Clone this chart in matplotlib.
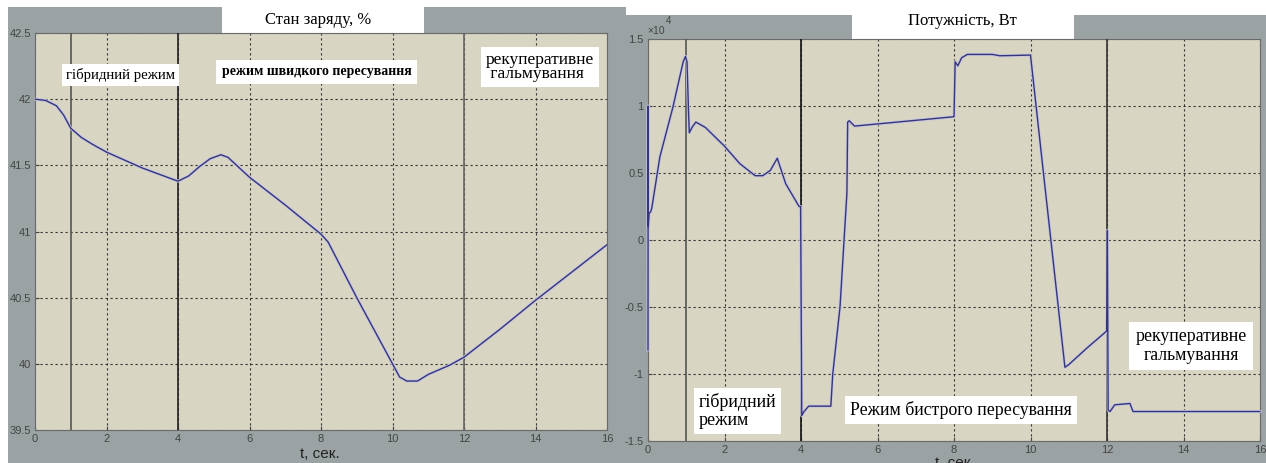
import matplotlib
matplotlib.use("Agg")
import matplotlib.pyplot as plt
from matplotlib.patches import Rectangle

# --- data ---
soc_t = [0, 0.3, 0.6, 0.8, 1.0, 1.3, 1.6, 2.0, 2.5, 3.0, 3.5, 4.0, 4.3, 4.6, 4.9, 5.2, 5.4,
         6.0, 7.0, 8.0, 8.2, 9.0, 9.5, 10.0, 10.2, 10.4, 10.7, 11.0, 11.6, 12.0, 13.0, 14.0, 15.0, 16.0]
soc = [42.0, 41.99, 41.95, 41.88, 41.78, 41.71, 41.66, 41.60, 41.54, 41.48, 41.43, 41.38, 41.42,
       41.49, 41.55, 41.58, 41.56, 41.41, 41.20, 40.98, 40.92, 40.50, 40.25, 40.00, 39.90, 39.87,
       39.87, 39.92, 39.99, 40.05, 40.26, 40.48, 40.69, 40.90]

pow_t = [0.0, 0.004, 0.008, 0.03, 0.07, 0.1, 0.31, 0.65, 0.92, 0.98, 1.02, 1.06, 1.08, 1.15, 1.25,
         1.5, 2.0, 2.4, 2.8, 3.0, 3.2, 3.38, 3.6, 3.95, 3.99, 4.02, 4.08, 4.2, 4.78, 4.83, 5.02,
         5.2, 5.22, 5.26, 5.4, 8.0, 8.03, 8.1, 8.2, 8.35, 9.0, 9.2, 10.0, 10.3, 10.9, 11.0, 11.5,
         11.99, 12.01, 12.03, 12.08, 12.2, 12.6, 12.68, 16.0]
pow_w = [-0.82, 1.0, 0.1, 0.2, 0.21, 0.24, 0.62, 0.99, 1.33, 1.37, 1.33, 0.95, 0.80, 0.84, 0.88,
         0.84, 0.70, 0.57, 0.48, 0.48, 0.52, 0.61, 0.42, 0.25, 0.25, -1.31, -1.28, -1.24, -1.24,
         -1.0, -0.5, 0.35, 0.88, 0.89, 0.85, 0.92, 1.33, 1.30, 1.36, 1.385, 1.385, 1.375, 1.38,
         0.6, -0.95, -0.93, -0.80, -0.68, 0.07, -1.27, -1.28, -1.23, -1.22, -1.28, -1.28]

soc_yticks = [39.5, 40, 40.5, 41, 41.5, 42, 42.5]
soc_ylabels = ["39.5", "40", "40.5", "41", "41.5", "42", "42.5"]
pow_yticks = [-1.5, -1, -0.5, 0, 0.5, 1, 1.5]
pow_ylabels = ["-1.5", "-1", "-0.5", "0", "0.5", "1", "1.5"]
xticks = [0, 2, 4, 6, 8, 10, 12, 14, 16]
mode_marks = [1, 4, 12]

W, H = 1266, 463
GRAY = "#9aa2a4"
FACE = "#d8d5c2"
LINE = "#35357a"
HALO = "#c6c4e2"
TICK_FONT = ["Liberation Sans Narrow", "Liberation Sans", "DejaVu Sans"]
SERIF = ["Liberation Serif", "DejaVu Serif"]


def box(x0, y0, x1, y1):
    return [x0 / W, 1 - y1 / H, (x1 - x0) / W, (y1 - y0) / H]


def rect(fig, x0, y0, x1, y1, color):
    fig.add_artist(Rectangle((x0 / W, 1 - y1 / H), (x1 - x0) / W, (y1 - y0) / H,
                             transform=fig.transFigure, color=color, lw=0, zorder=0))


def label(fig, x, y, s, size, ha="left", weight="normal", pad=0.25, bbox=True, **kw):
    props = dict(boxstyle=f"square,pad={pad}", fc="white", ec="none") if bbox else None
    fig.text(x / W, 1 - y / H, s, fontsize=size, family=SERIF, ha=ha, va="center",
             weight=weight, bbox=props, zorder=5, **kw)


def style_axes(ax, yticks, ylabels, marks_color):
    ax.set_facecolor(FACE)
    ax.set_xlim(0, 16)
    ax.set_xticks(xticks)
    ax.set_xticklabels([str(v) for v in xticks])
    ax.set_yticks(yticks)
    ax.set_yticklabels(ylabels)
    ax.tick_params(direction="in", length=3, labelsize=8, colors="#444444", pad=3)
    for lab in ax.get_xticklabels() + ax.get_yticklabels():
        lab.set_family(TICK_FONT)
    ax.grid(True, color="#333333", lw=0.8, ls=(0, (2, 2.5)))
    for sp in ax.spines.values():
        sp.set_color("#6a6a6a")
    for m, c in zip(mode_marks, marks_color):
        ax.axvline(m, color=c, lw=1.2, zorder=3)


fig = plt.figure(figsize=(W / 100, H / 100), dpi=100)
fig.patch.set_facecolor("white")

# panel backgrounds
rect(fig, 8, 7, 626, 463, GRAY)
rect(fig, 626, 15, 1266, 463, GRAY)

# left: state of charge
ax1 = fig.add_axes(box(35, 33, 607, 430))
style_axes(ax1, soc_yticks, soc_ylabels, ["#555555", "#222222", "#666666"])
ax1.set_ylim(39.5, 42.5)
ax1.plot(soc_t, soc, color=HALO, lw=2.2, zorder=4, solid_capstyle="round")
ax1.plot(soc_t, soc, color=LINE, lw=1.0, zorder=4)

# right: power
ax2 = fig.add_axes(box(648, 39, 1260, 441))
style_axes(ax2, pow_yticks, pow_ylabels, ["#555555", "#111111", "#333333"])
ax2.set_ylim(-1.5, 1.5)
ax2.plot(pow_t, pow_w, color=HALO, lw=2.2, zorder=4, clip_on=False)
ax2.plot(pow_t, pow_w, color=LINE, lw=1.0, zorder=4, clip_on=False)

# title boxes
rect(fig, 222, 7, 424, 33, "white")
rect(fig, 852, 0, 1074, 39, "white")
label(fig, 318, 20, "Стан заряду, %", 12, ha="center", bbox=False)
label(fig, 962, 21, "Потужність, Вт", 12, ha="center", bbox=False)

# axis labels
fig.text(320 / W, 1 - 454 / H, "t, сек.", fontsize=11, family=TICK_FONT, ha="center",
         va="center", color="#222222")
fig.text(955 / W, 1 - 463 / H, "t, сек.", fontsize=11, family=TICK_FONT, ha="center",
         va="center", color="#222222")
fig.text(647 / W, 1 - 31 / H, "×10", fontsize=7.5, family=TICK_FONT, color="#444444", va="center")
fig.text(666 / W, 1 - 21 / H, "4", fontsize=7, family=TICK_FONT, color="#444444", va="center")

# left annotations
label(fig, 66, 75, "гібридний режим", 10.6, pad=0.3)
label(fig, 222, 72, "режим швидкого пересування", 10, weight="bold", pad=0.4)
label(fig, 486, 67, "рекуперативне\n гальмування", 12.5, pad=0.3, linespacing=0.8)

# right annotations
label(fig, 699, 411, "гібридний\nрежим", 13, pad=0.25, linespacing=1.15)
label(fig, 850, 410, "Режим бистрого пересування", 12.8, pad=0.3)
label(fig, 1191, 346, "рекуперативне\nгальмування", 12.8, ha="center", pad=0.35,
      linespacing=1.1, multialignment="center")

fig.savefig("out.png", dpi=100)
